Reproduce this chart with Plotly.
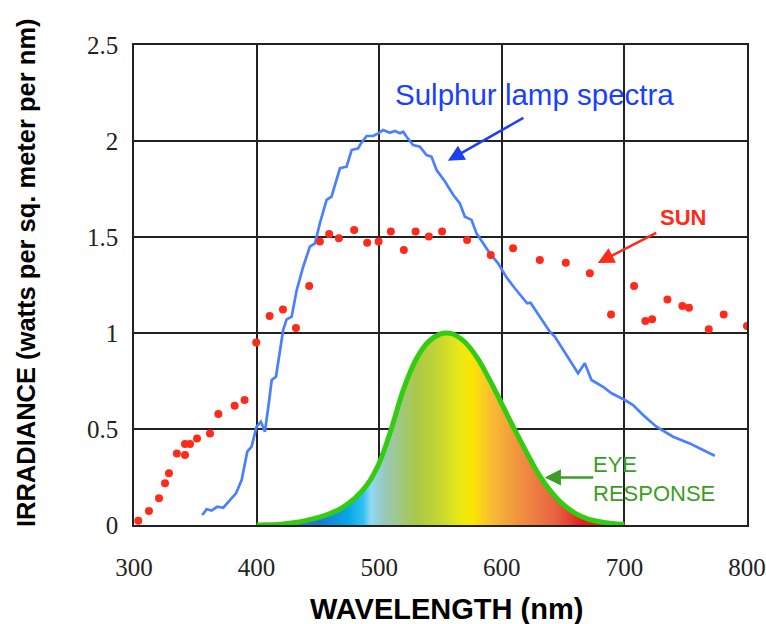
import plotly.graph_objects as go

# ---------------- data ----------------
sun_wl = [303.5, 312.2, 320.4, 325.3, 328.5, 335.0, 341.6, 341.6, 345.7, 351.4, 362.0, 368.8,
          382.1, 390.2, 399.7, 410.6, 421.5, 432.1, 442.9, 451.6, 459.2, 467.1, 479.6, 490.2,
          499.5, 509.5, 520.1, 529.7, 540.5, 551.3, 571.7, 591.0, 609.2, 631.0, 652.2, 671.8,
          689.1, 707.9, 717.1, 722.6, 735.1, 747.3, 752.7, 768.8, 781.0, 800.0]
sun_irr = [0.022, 0.073, 0.139, 0.217, 0.269, 0.373, 0.365, 0.422, 0.422, 0.450, 0.476, 0.578,
           0.621, 0.651, 0.950, 1.089, 1.123, 1.026, 1.245, 1.476, 1.516, 1.493, 1.536, 1.470,
           1.477, 1.528, 1.432, 1.528, 1.502, 1.528, 1.484, 1.406, 1.441, 1.380, 1.366, 1.311,
           1.097, 1.245, 1.062, 1.071, 1.175, 1.141, 1.132, 1.019, 1.097, 1.036]

lamp_wl = [355.7, 359.3, 363.3, 367.9, 372.8, 378.3, 383.2, 387.8, 392.4, 395.9, 400.0, 403.5,
           406.8, 410.3, 412.3, 415.8, 418.5, 421.7, 424.5, 428.6, 432.6, 438.0, 443.5, 447.6,
           451.6, 457.1, 461.1, 468.0, 473.4, 477.5, 482.9, 484.3, 489.7, 495.1, 499.2, 503.2,
           508.7, 512.8, 516.9, 519.6, 522.3, 527.7, 533.2, 538.6, 542.7, 546.8, 553.5, 557.6,
           560.3, 565.8, 569.9, 575.3, 579.4, 584.8, 590.2, 597.0, 603.8, 610.6, 616.1, 620.7,
           623.4, 631.0, 639.2, 643.2, 652.8, 662.2, 667.7, 673.1, 682.6, 689.5, 700.3, 707.1,
           715.2, 726.1, 739.7, 753.3, 764.1, 773.7]
lamp_irr = [0.052, 0.082, 0.075, 0.095, 0.090, 0.130, 0.165, 0.234, 0.382, 0.408, 0.512, 0.538,
            0.486, 0.651, 0.755, 0.772, 0.894, 1.016, 1.071, 1.085, 1.220, 1.345, 1.450, 1.467,
            1.571, 1.693, 1.710, 1.858, 1.866, 1.953, 1.962, 1.979, 2.026, 2.026, 2.040, 2.057,
            2.043, 2.052, 2.040, 2.048, 2.022, 1.979, 1.970, 1.927, 1.918, 1.849, 1.790, 1.745,
            1.720, 1.675, 1.606, 1.589, 1.519, 1.467, 1.415, 1.363, 1.290, 1.233, 1.190, 1.155,
            1.158, 1.085, 1.007, 0.981, 0.885, 0.790, 0.842, 0.755, 0.720, 0.686, 0.651, 0.625,
            0.573, 0.512, 0.460, 0.425, 0.391, 0.361]

eye_wl = [400, 410, 420, 430, 440, 450, 460, 470, 480, 490, 500, 510, 520, 530, 540, 550, 555,
          560, 570, 580, 590, 600, 610, 620, 630, 640, 650, 660, 670, 680, 690, 700]
eye_resp = [0.0004, 0.0012, 0.004, 0.0116, 0.023, 0.038, 0.060, 0.091, 0.139, 0.208, 0.323,
            0.503, 0.710, 0.862, 0.954, 0.995, 1.000, 0.995, 0.952, 0.870, 0.757, 0.631, 0.503,
            0.381, 0.265, 0.175, 0.107, 0.061, 0.032, 0.017, 0.0082, 0.0041]

x_ticks = [300, 400, 500, 600, 700, 800]
y_ticks = [0, 0.5, 1, 1.5, 2, 2.5]
y_tick_text = ["0", "0.5", "1", "1.5", "2", "2.5"]

# spectral gradient stops (nm, colour) -- styling
spec_stops = [(425, "#7a70c0"), (450, "#1a78d0"), (475, "#08a8e8"), (487, "#30c0f0"),
              (493, "#90d8f5"), (505, "#98c8b8"), (530, "#a8c848"), (550, "#c8d830"),
              (565, "#e8e818"), (575, "#fae800"), (590, "#f8c030"), (615, "#f09040"),
              (645, "#e86040"), (665, "#e82020"), (685, "#e82020")]
g0, g1 = spec_stops[0][0], spec_stops[-1][0]
colorscale = [[(w - g0) / (g1 - g0), c] for w, c in spec_stops]

fig = go.Figure()

fig.add_trace(go.Scatter(
    x=eye_wl, y=eye_resp, mode="lines", fill="tozeroy",
    fillgradient=dict(type="horizontal", colorscale=colorscale, start=g0, stop=g1),
    line=dict(color="#33cc11", width=5, shape="spline"),
    showlegend=False, hoverinfo="skip"))

fig.add_trace(go.Scatter(
    x=lamp_wl, y=lamp_irr, mode="lines",
    line=dict(color="#4a80ff", width=2.7),
    showlegend=False))

fig.add_trace(go.Scatter(
    x=sun_wl, y=sun_irr, mode="markers",
    marker=dict(color="#ff2a1a", size=8),
    showlegend=False))

sans = "Liberation Sans, Arial, Helvetica, sans-serif"
serif = "Liberation Serif, Times New Roman, serif"

annotations = [
    dict(x=626.9, y=2.24, text="Sulphur lamp spectra", showarrow=False,
         xanchor="center", yanchor="middle",
         font=dict(family=sans, size=29.5, color="#1a40ff")),
    dict(x=556, y=1.897, ax=618.8, ay=2.125, axref="x", ayref="y", text="",
         showarrow=True, arrowhead=2, arrowsize=1.3, arrowwidth=2.5, arrowcolor="#1a40f0"),
    dict(x=747.6, y=1.599, text="<b>SUN</b>", showarrow=False,
         xanchor="center", yanchor="middle",
         font=dict(family=sans, size=22, color="#ff2a1a")),
    dict(x=678.3, y=1.365, ax=727.2, ay=1.526, axref="x", ayref="y", text="",
         showarrow=True, arrowhead=2, arrowsize=1.3, arrowwidth=2.5, arrowcolor="#ff2a1a"),
    dict(x=673.0, y=0.242, text="EYE<br>RESPONSE", showarrow=False, xanchor="left",
         yanchor="middle", align="left", font=dict(family=sans, size=22, color="#3a9e22")),
    dict(x=635, y=0.248, ax=675.8, ay=0.248, axref="x", ayref="y", text="",
         showarrow=True, arrowhead=2, arrowsize=1.3, arrowwidth=2.5, arrowcolor="#3a9e22"),
    dict(xref="paper", yref="paper", x=-0.176, y=0.525, textangle=-90,
         xanchor="center", yanchor="middle",
         text="<b>IRRADIANCE (watts per sq. meter per nm)</b>", showarrow=False,
         font=dict(family=sans, size=25.5, color="black")),
    dict(xref="paper", yref="paper", x=0.51, y=-0.176,
         xanchor="center", yanchor="middle",
         text="<b>WAVELENGTH (nm)</b>", showarrow=False,
         font=dict(family=sans, size=29, color="black")),
]

fig.update_layout(
    width=766, height=624,
    margin=dict(l=134, r=19, t=45, b=99),
    paper_bgcolor="white", plot_bgcolor="white",
    annotations=annotations,
    xaxis=dict(range=[300, 800], tickvals=x_ticks, showgrid=True, gridcolor="#222",
               gridwidth=1.5, showline=True, mirror=True, linecolor="#222", linewidth=1.5,
               zeroline=False, ticks="", ticklabelstandoff=19, automargin=False,
               tickfont=dict(family=serif, size=25, color="#222")),
    yaxis=dict(range=[0, 2.5], tickvals=y_ticks, ticktext=y_tick_text, showgrid=True,
               gridcolor="#222", gridwidth=1.5, showline=True, mirror=True, linecolor="#222",
               linewidth=1.5, zeroline=False, ticks="", ticklabelstandoff=9, automargin=False,
               tickfont=dict(family=serif, size=25, color="#222")),
)

fig.write_html("out.html", config={"displayModeBar": False},
               post_script="document.body.style.margin='0px';document.body.style.overflow='hidden';")
